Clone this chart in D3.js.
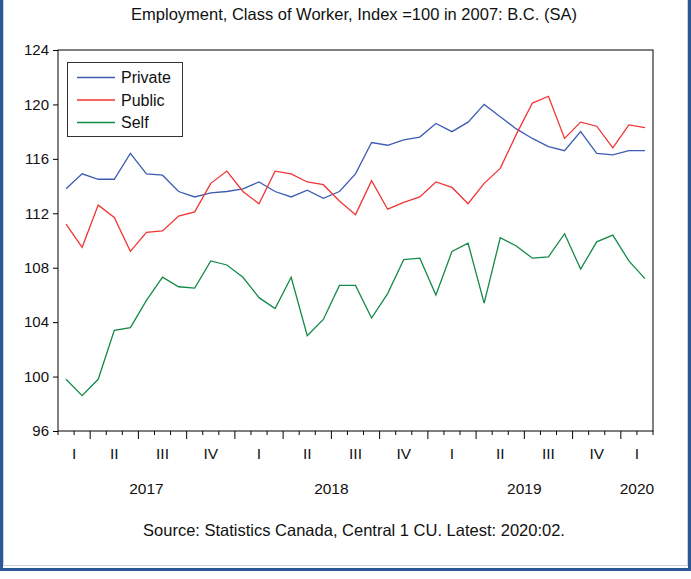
<!DOCTYPE html>
<html>
<head>
<meta charset="utf-8">
<script src="https://cdn.jsdelivr.net/npm/d3@7"></script>
<style>
  body { margin: 0; background: #fff; }
  svg text { font-family: "Liberation Sans", Arial, sans-serif; fill: #111; }
</style>
</head>
<body>
<div id="chart"></div>
<script>
// monthly observations, 2017:02 .. 2020:02
const months = d3.timeMonth.range(new Date(2017, 1, 1), new Date(2020, 2, 1));

const privateIdx = [
    113.8, 114.9, 114.5, 114.5, 116.4, 114.9, 114.8, 113.6, 113.2, 113.5, 113.6, 113.8,
    114.3, 113.6, 113.2, 113.7, 113.1, 113.6, 114.9, 117.2, 117.0, 117.4, 117.6, 118.6,
    118.0, 118.7, 120.0, 119.1, 118.2, 117.5, 116.9, 116.6, 118.0, 116.4, 116.3, 116.6, 116.6
];
const publicIdx = [
    111.2, 109.5, 112.6, 111.7, 109.2, 110.6, 110.7, 111.8, 112.1, 114.2, 115.1, 113.6,
    112.7, 115.1, 114.9, 114.3, 114.1, 112.9, 111.9, 114.4, 112.3, 112.8, 113.2, 114.3,
    113.9, 112.7, 114.2, 115.3, 117.8, 120.1, 120.6, 117.5, 118.7, 118.4, 116.8, 118.5, 118.3
];
const selfIdx = [
    99.8, 98.6, 99.8, 103.4, 103.6, 105.6, 107.3, 106.6, 106.5, 108.5, 108.2, 107.3,
    105.8, 105.0, 107.3, 103.0, 104.2, 106.7, 106.7, 104.3, 106.1, 108.6, 108.7, 106.0,
    109.2, 109.8, 105.4, 110.2, 109.6, 108.7, 108.8, 110.5, 107.9, 109.9, 110.4, 108.5, 107.2
];

const seriesNames = ["Private", "Public", "Self"];
const seriesColors = ["#3d5db4", "#f03535", "#138a48"];
const yTicks = [96, 100, 104, 108, 112, 116, 120, 124];
const quarterLabels = ["I", "II", "III", "IV"];

const series = [privateIdx, publicIdx, selfIdx].map((values, i) => ({
    name: seriesNames[i],
    color: seriesColors[i],
    values: values.map((v, j) => ({ date: months[j], value: v }))
}));

const width = 691, height = 579;
const plot = { left: 58, right: 653, top: 50, bottom: 431 };

const svg = d3.select("#chart")
    .append("svg")
    .attr("width", width)
    .attr("height", height);

svg.append("rect")
    .attr("width", width)
    .attr("height", height)
    .attr("fill", "#fff");

// outer frame
svg.append("rect")
    .attr("x", 1.5)
    .attr("y", -10)
    .attr("width", 688)
    .attr("height", 579.5)
    .attr("fill", "none")
    .attr("stroke", "#2b5895")
    .attr("stroke-width", 3);
svg.append("rect")
    .attr("x", 3.5)
    .attr("y", -10)
    .attr("width", 684)
    .attr("height", 575.5)
    .attr("fill", "none")
    .attr("stroke", "#c9d3e0")
    .attr("stroke-width", 1);

const x = d3.scaleBand()
    .domain(months.map(d => +d))
    .range([plot.left, plot.right])
    .paddingInner(0)
    .paddingOuter(0);

const y = d3.scaleLinear()
    .domain([96, 124])
    .range([plot.bottom, plot.top]);

const xc = d => x(+d) + x.bandwidth() / 2;

// title
svg.append("text")
    .attr("x", 354)
    .attr("y", 20)
    .attr("text-anchor", "middle")
    .style("font-size", "16.5px")
    .text("Employment, Class of Worker, Index =100 in 2007: B.C. (SA)");

// plot frame
svg.append("rect")
    .attr("x", plot.left)
    .attr("y", plot.top)
    .attr("width", plot.right - plot.left)
    .attr("height", plot.bottom - plot.top)
    .attr("fill", "none")
    .attr("stroke", "#000")
    .attr("stroke-width", 1);

// y axis
const yAxis = svg.append("g")
    .attr("transform", `translate(${plot.left},0)`)
    .call(d3.axisLeft(y).tickValues(yTicks).tickSize(5).tickPadding(4));
yAxis.select(".domain").remove();
yAxis.selectAll("line").attr("stroke", "#000");
yAxis.selectAll("text")
    .style("font-size", "15px")
    .style("font-family", "Liberation Sans, Arial, sans-serif")
    .attr("fill", "#111");

// x ticks at month boundaries, longer at quarter boundaries
const boundaries = months.map(d => +d).concat([+d3.timeMonth.offset(months[months.length - 1], 1)]);
boundaries.forEach((b, i) => {
    const px = i < months.length ? x(b) : plot.right;
    const isQuarter = new Date(b).getMonth() % 3 === 0;
    svg.append("line")
        .attr("x1", px)
        .attr("x2", px)
        .attr("y1", plot.bottom)
        .attr("y2", plot.bottom + (isQuarter ? 8 : 4))
        .attr("stroke", "#000")
        .attr("stroke-width", 1);
});

// quarter and year labels
const quarters = d3.groups(months, d => d.getFullYear() + "-" + Math.floor(d.getMonth() / 3));
quarters.forEach(([key, ms]) => {
    const q = +key.split("-")[1];
    const x0 = x(+ms[0]);
    const x1 = x(+ms[ms.length - 1]) + x.bandwidth();
    svg.append("text")
        .attr("x", (x0 + x1) / 2)
        .attr("y", 459)
        .attr("text-anchor", "middle")
        .style("font-size", "15.5px")
        .text(quarterLabels[q]);
});
const years = d3.groups(months, d => d.getFullYear());
years.forEach(([yr, ms]) => {
    const x0 = x(+ms[0]);
    const x1 = x(+ms[ms.length - 1]) + x.bandwidth();
    svg.append("text")
        .attr("x", (x0 + x1) / 2)
        .attr("y", 494)
        .attr("text-anchor", "middle")
        .style("font-size", "15.5px")
        .text(yr);
});

// lines
const line = d3.line()
    .x(d => xc(d.date))
    .y(d => y(d.value));

series.forEach(s => {
    svg.append("path")
        .datum(s.values)
        .attr("d", line)
        .attr("fill", "none")
        .attr("stroke", s.color)
        .attr("stroke-width", 1.3)
        .attr("stroke-linejoin", "miter");
});

// legend
const legend = svg.append("g");
legend.append("rect")
    .attr("x", 67.5)
    .attr("y", 62.5)
    .attr("width", 115)
    .attr("height", 74)
    .attr("fill", "#fff")
    .attr("stroke", "#333")
    .attr("stroke-width", 1);
series.forEach((s, i) => {
    const ly = 77.5 + i * 22.5;
    legend.append("line")
        .attr("x1", 77)
        .attr("x2", 115)
        .attr("y1", ly)
        .attr("y2", ly)
        .attr("stroke", s.color)
        .attr("stroke-width", 1.3);
    legend.append("text")
        .attr("x", 121)
        .attr("y", ly + 5.5)
        .style("font-size", "16px")
        .text(s.name);
});

// source note
svg.append("text")
    .attr("x", 354)
    .attr("y", 536)
    .attr("text-anchor", "middle")
    .style("font-size", "16.5px")
    .text("Source: Statistics Canada, Central 1 CU. Latest: 2020:02.");
</script>
</body>
</html>
